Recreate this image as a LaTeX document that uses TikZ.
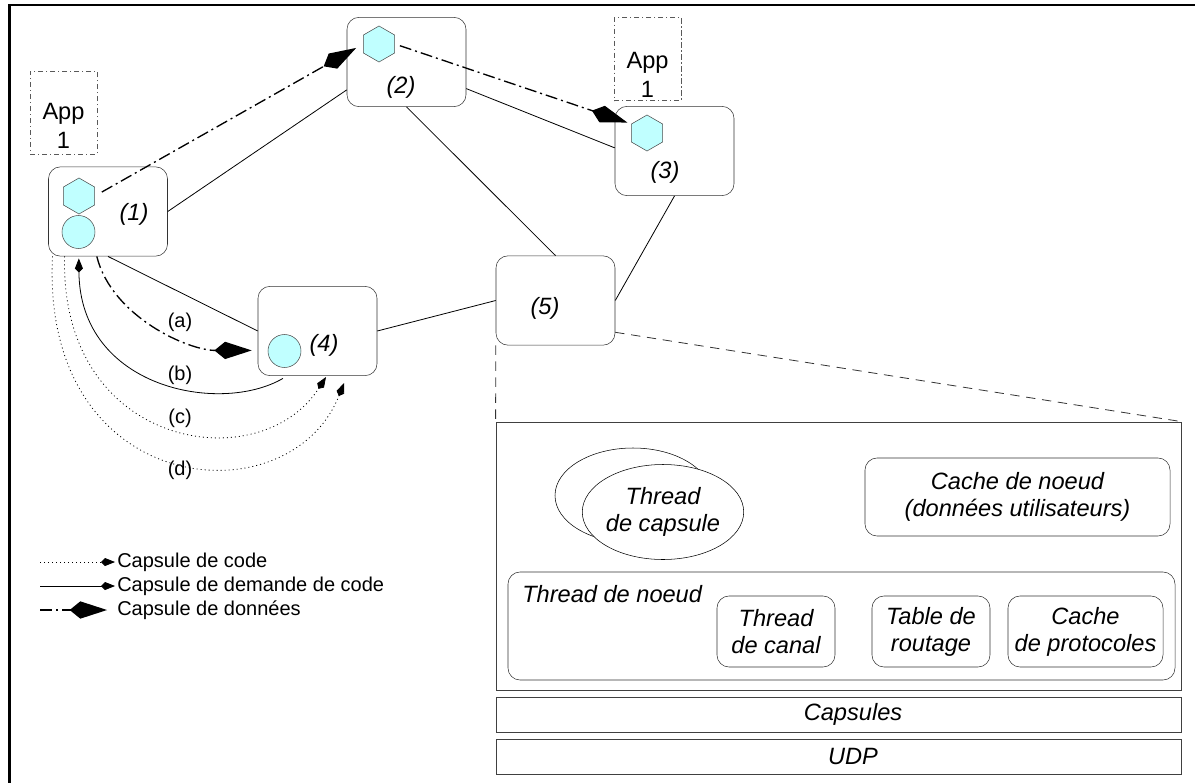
\documentclass[tikz,border=0pt]{standalone}
\usepackage{fontspec}
\setmainfont{Liberation Sans}
\usetikzlibrary{arrows.meta}
\usetikzlibrary{shapes}

\definecolor{capcyan}{RGB}{192,255,255}
\newcommand{\labfont}{\fontsize{17.7}{20.3}\selectfont}
\newcommand{\legfont}{\fontsize{15}{17}\selectfont}

\begin{document}
\begin{tikzpicture}[x=0.75pt,y=-0.75pt,
    box/.style={draw=black!80,rounded corners=9pt,inner sep=0pt,minimum width=89.25pt,minimum height=67pt},
    hexa/.style={draw=black!70,fill=capcyan,regular polygon,regular polygon sides=6,shape border rotate=30,minimum size=27pt,inner sep=0pt},
    ball/.style={draw=black!70,fill=capcyan,circle,minimum size=24.75pt,inner sep=0pt},
    appbox/.style={draw=black!65,dash pattern=on 4pt off 2pt on 1pt off 2pt,minimum width=50.25pt,minimum height=62.25pt,inner sep=0pt},
    link/.style={draw=black,line width=0.6pt},
    zoomline/.style={draw=black!80,line width=0.6pt,dash pattern=on 7pt off 5pt},
    data/.style={line width=1pt,dash pattern=on 9pt off 3pt on 1.5pt off 3pt,-{Kite[length=28pt,width=13pt,inset=8pt]}},
    demand/.style={line width=0.6pt,-{Kite[length=10.5pt,width=6pt,inset=3pt]}},
    code/.style={line width=0.6pt,dash pattern=on 0.75pt off 2.25pt,-{Kite[length=10.5pt,width=6pt,inset=3pt]}}]
\useasboundingbox (0,0) rectangle (1195,782);
\draw[line width=1.6pt] (9.5,800) -- (9.5,5) -- (1210,5);

% network nodes
\node[box] (n1) at (108,211.5) {};
\node[box] (n2) at (406.5,62) {};
\node[box] (n3) at (674.5,151) {};
\node[box] (n4) at (317.5,331) {};
\node[box] (n5) at (555.5,300.5) {};
\begin{scope}[every node/.style={font=\labfont\itshape}]
  \node (l1) at (134,214) {(1)};
  \node (l2) at (401,87) {(2)};
  \node (l3) at (665,172) {(3)};
  \node (l4) at (324,345) {(4)};
  \node (l5) at (545,308) {(5)};
\end{scope}
\node[hexa] (h1) at (79,196) {};
\node[hexa] (h2) at (379,44) {};
\node[hexa] (h3) at (647,133) {};
\node[ball] (c1) at (78.5,232) {};
\node[ball] (c4) at (284.5,351) {};

% applications
\node[appbox] (app1) at (63.5,112.5) {};
\node[appbox] (app3) at (647.5,59) {};
\begin{scope}[every node/.style={font=\fontsize{17.7}{21.75}\selectfont,align=center}]
  \node (app1t) at (63.5,125.5) {App\\1};
  \node (app3t) at (647.5,74.5) {App\\1};
\end{scope}

% links
\begin{scope}[every path/.style={link}]
  \path (n1.east) edge (n2.205);
  \path (n2.336) edge (n3.177);
  \path (n2.south) edge (n5.north);
  \path (n3.south) edge (n5.east);
  \path (n1.south) edge (n4.west);
  \path (n4.east) edge (n5.west);
\end{scope}

% capsules
\draw[data,shorten <=6pt,shorten >=6pt] (h1.east) -- (h2.west);
\draw[data,shorten <=4pt,shorten >=3pt] (h2.east) -- (h3.150);
\draw[data,shorten >=4.5pt] (n1.256) .. controls +(15,60) and +(-70,0) .. (n4.198);
\draw[demand,shorten <=3.75pt,shorten >=1.5pt] (n4.236) .. controls +(-67,39) and +(1,132) .. (n1.237);
\coordinate (cend) at (326,377);
\coordinate (dend) at (344,383);
\draw[code] (n1.226) .. controls +(-5,193) and +(-66,103) .. (cend);
\draw[code] (n1.219) .. controls +(-12,243) and +(-54,137) .. (dend);
\begin{scope}[every node/.style={font=\legfont}]
  \node (la) at (180,322) {(a)};
  \node (lb) at (180,375) {(b)};
  \node (lc) at (180,418) {(c)};
  \node (ld) at (180,470) {(d)};
\end{scope}

% legend
\coordinate (lg1) at (40,562);
\coordinate (lg2) at (40,586);
\coordinate (lg3) at (40,610);
\begin{scope}[every node/.style={font=\legfont,anchor=west,inner sep=1.5pt}]
  \node (t1) at (115,562) {Capsule de code};
  \node (t2) at (115,586) {Capsule de demande de code};
  \node (t3) at (115,610) {Capsule de données};
\end{scope}
\draw[code] (lg1) -- (t1.west);
\draw[demand] (lg2) -- (t2.west);
\draw[data,shorten >=6pt] (lg3) -- (t3.west);

% node (5) in detail
\node[draw=black!75,line width=0.6pt,minimum width=513.75pt,minimum height=201pt,inner sep=0pt] (panel) at (838.5,556) {};
\draw[zoomline] (n5.south west) -- (panel.north west);
\draw[zoomline] (n5.332) -- (panel.north east);
\begin{scope}[every node/.style={font=\labfont\itshape,align=center,inner sep=0pt}]
  \node[draw,ellipse,minimum width=117pt,minimum height=71.25pt] (thb) at (633,495.5) {};
  \node[draw,fill=white,ellipse,minimum width=117pt,minimum height=71.25pt] (thc) at (663,512) {Thread\\de capsule};
  \node[box,minimum width=228.75pt,minimum height=58.5pt] (cache) at (1017.5,497) {Cache de noeud\\(données utilisateurs)};
  \node[box,minimum width=500.25pt,minimum height=81pt] (tnoeud) at (841.5,626) {};
  \node[anchor=base west] (tnl) at (522,602) {Thread de noeud};
  \node[box,minimum width=88.5pt,minimum height=53.25pt] (canal) at (776,631.5) {Thread\\de canal};
  \node[box,minimum width=88.5pt,minimum height=53.25pt] (route) at (931,631.5) {Table de\\routage};
  \node[box,minimum width=116.25pt,minimum height=53.25pt] (proto) at (1085.5,631.5) {Cache\\de protocoles};
  \node[draw=black!75,minimum width=513.75pt,minimum height=26.25pt] (caps) at (838.5,714.5) {\hspace*{21.75pt}Capsules};
  \node[draw=black!75,minimum width=513.75pt,minimum height=26.25pt] (udp) at (838.5,756.5) {\hspace*{21.75pt}UDP};
\end{scope}
\end{tikzpicture}
\end{document}
